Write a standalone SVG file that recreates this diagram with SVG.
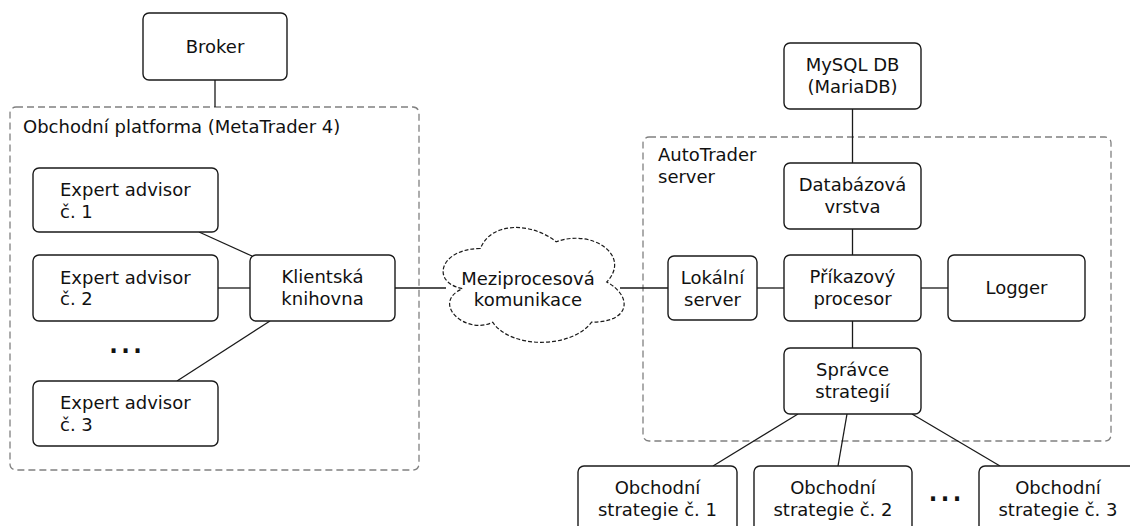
<svg xmlns="http://www.w3.org/2000/svg" width="1130" height="526" viewBox="0 0 1130 526">
<style>
.box{fill:#fff;stroke:#1a1a1a;stroke-width:1.4}
.cont{fill:none;stroke:#808080;stroke-width:1.3;stroke-dasharray:7 4}
.cloud{fill:#fff;stroke:#1a1a1a;stroke-width:1.2;stroke-dasharray:4 2}
.ln{stroke:#1a1a1a;stroke-width:1.3;fill:none}
text{font-family:"DejaVu Sans","Liberation Sans",sans-serif;font-size:18px;fill:#111}
.c{text-anchor:middle}
.dots{font-size:38px;text-anchor:middle}
</style>
<rect width="1130" height="526" fill="#fff"/>
<g id="platform">
<rect class="cont" x="10" y="107" width="409" height="363" rx="6"/>
<text x="23" y="133">Obchodní platforma (MetaTrader 4)</text>
</g>
<g id="autotrader">
<rect class="cont" x="643" y="137" width="468" height="304" rx="6"/>
<text x="658" y="161">AutoTrader</text>
<text x="658" y="182.6">server</text>
</g>
<g id="connectors">
<line class="ln" x1="215" y1="80" x2="215" y2="107"/>
<line class="ln" x1="199" y1="232" x2="252" y2="256"/>
<line class="ln" x1="218" y1="288" x2="250" y2="288"/>
<line class="ln" x1="177" y1="381" x2="270" y2="321"/>
<line class="ln" x1="395" y1="288" x2="446" y2="288"/>
<line class="ln" x1="620" y1="288" x2="668" y2="288"/>
<line class="ln" x1="757" y1="288" x2="784" y2="288"/>
<line class="ln" x1="921" y1="288" x2="948" y2="288"/>
<line class="ln" x1="852.5" y1="109" x2="852.5" y2="163"/>
<line class="ln" x1="852.5" y1="229" x2="852.5" y2="255"/>
<line class="ln" x1="852.5" y1="321" x2="852.5" y2="348"/>
<line class="ln" x1="798" y1="414" x2="713" y2="466"/>
<line class="ln" x1="847" y1="414" x2="838" y2="466"/>
<line class="ln" x1="912" y1="414" x2="1000" y2="466"/>
</g>
<g id="broker">
<rect class="box" x="143" y="13" width="144" height="67" rx="6"/>
<text class="c" x="215" y="53">Broker</text>
</g>
<g id="ea1">
<rect class="box" x="33" y="168" width="185" height="64" rx="6"/>
<text x="60" y="196">Expert advisor</text>
<text x="60" y="217.5">č. 1</text>
</g>
<g id="ea2">
<rect class="box" x="33" y="255" width="185" height="66" rx="6"/>
<text x="60" y="283.5">Expert advisor</text>
<text x="60" y="305">č. 2</text>
</g>
<g id="dots-left">
<text class="dots" x="125.5" y="353">...</text>
</g>
<g id="ea3">
<rect class="box" x="33" y="381" width="185" height="65" rx="6"/>
<text x="60" y="409">Expert advisor</text>
<text x="60" y="430.5">č. 3</text>
</g>
<g id="klientska">
<rect class="box" x="250" y="255" width="145" height="66" rx="6"/>
<text class="c" x="322.5" y="283">Klientská</text>
<text class="c" x="322.5" y="304.5">knihovna</text>
</g>
<g id="cloud">
<path class="cloud" d="M480.5,248.5 C440.1,248.5 430,282 462.3,288.7 C430,303.4 466.4,335.6 492.6,322.2 C510.8,349 571.4,349 591.6,322.2 C632,322.2 632,295.4 606.75,282 C632,255.2 591.6,228.4 556.25,241.8 C531,221.7 490.6,221.7 480.5,248.5 Z"/>
<text class="c" x="528" y="284.5">Meziprocesová</text>
<text class="c" x="528" y="306">komunikace</text>
</g>
<g id="mysql">
<rect class="box" x="784" y="43" width="137" height="66" rx="6"/>
<text class="c" x="852.5" y="71">MySQL DB</text>
<text class="c" x="852.5" y="92.5">(MariaDB)</text>
</g>
<g id="databazova">
<rect class="box" x="784" y="163" width="137" height="66" rx="6"/>
<text class="c" x="852.5" y="191">Databázová</text>
<text class="c" x="852.5" y="212.5">vrstva</text>
</g>
<g id="lokalni">
<rect class="box" x="668" y="256" width="89" height="64" rx="6"/>
<text class="c" x="712.5" y="284">Lokální</text>
<text class="c" x="712.5" y="305.5">server</text>
</g>
<g id="prikazovy">
<rect class="box" x="784" y="255" width="137" height="66" rx="6"/>
<text class="c" x="852.5" y="283">Příkazový</text>
<text class="c" x="852.5" y="304.5">procesor</text>
</g>
<g id="logger">
<rect class="box" x="948" y="255" width="137" height="66" rx="6"/>
<text class="c" x="1016.5" y="294">Logger</text>
</g>
<g id="spravce">
<rect class="box" x="784" y="348" width="137" height="66" rx="6"/>
<text class="c" x="852.5" y="376">Správce</text>
<text class="c" x="852.5" y="397.5">strategií</text>
</g>
<g id="strategie1">
<rect class="box" x="578" y="466" width="159" height="66" rx="6"/>
<text class="c" x="657.5" y="494">Obchodní</text>
<text class="c" x="657.5" y="515.5">strategie č. 1</text>
</g>
<g id="strategie2">
<rect class="box" x="754" y="466" width="158" height="66" rx="6"/>
<text class="c" x="833" y="494">Obchodní</text>
<text class="c" x="833" y="515.5">strategie č. 2</text>
</g>
<g id="dots-right">
<text class="dots" x="945" y="501">...</text>
</g>
<g id="strategie3">
<rect class="box" x="979" y="466" width="158" height="66" rx="6"/>
<text class="c" x="1058" y="494">Obchodní</text>
<text class="c" x="1058" y="515.5">strategie č. 3</text>
</g>
</svg>
